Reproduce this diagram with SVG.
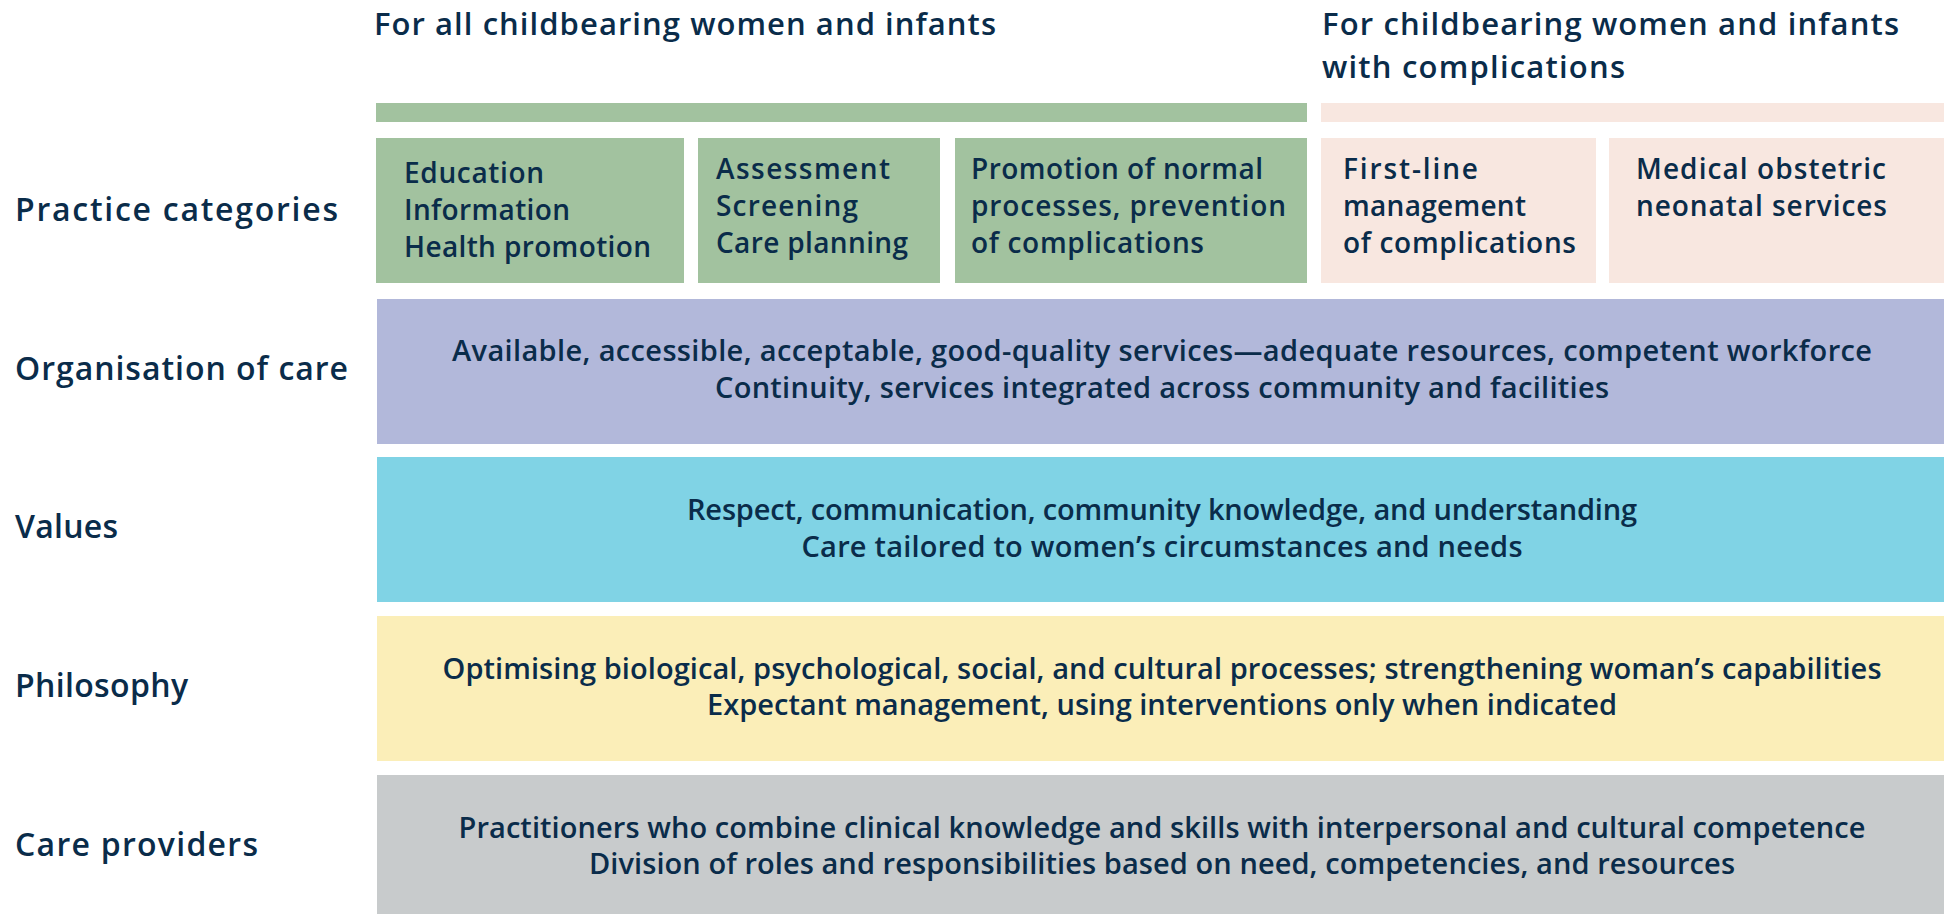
<svg xmlns="http://www.w3.org/2000/svg" width="1944" height="914" viewBox="0 0 1944 914">
<style>
text{font-family:"Open Sans",Roboto,"Liberation Sans",sans-serif;font-weight:600;fill:#0a2c4a}
.lbl{font-size:32px}
.ttl{font-size:31px}
.box{font-size:28px}
.body{font-size:29px;text-anchor:middle}
.g{fill:#a2c29f}.p{fill:#f8e7e0}.l{fill:#b2b8da}.c{fill:#80d3e5}.y{fill:#fbeeb8}.s{fill:#c8cbcc}
</style>
<rect width="1944" height="914" fill="#ffffff"/>
<g id="headers">
<text class="ttl" x="374" y="35" textLength="622">For all childbearing women and infants</text>
<text class="ttl" x="1322" y="35" textLength="577">For childbearing women and infants</text>
<text class="ttl" x="1322" y="78" textLength="303">with complications</text>
<rect class="g" x="376" y="103" width="931" height="19"/>
<rect class="p" x="1321" y="103" width="623" height="19"/>
</g>
<g id="labels">
<text class="lbl" x="15" y="221" textLength="323">Practice categories</text>
<text class="lbl" x="15" y="380" textLength="333">Organisation of care</text>
<text class="lbl" x="15" y="538" textLength="103">Values</text>
<text class="lbl" x="15" y="697" textLength="173">Philosophy</text>
<text class="lbl" x="15" y="856" textLength="243">Care providers</text>
</g>
<g id="box-education">
<rect class="g" x="376" y="138" width="308" height="145"/>
<text class="box" x="404" y="183" textLength="140">Education</text>
<text class="box" x="404" y="220" textLength="166">Information</text>
<text class="box" x="404" y="257" textLength="247">Health promotion</text>
</g>
<g id="box-assessment">
<rect class="g" x="698" y="138" width="242" height="145"/>
<text class="box" x="716" y="179" textLength="174">Assessment</text>
<text class="box" x="716" y="216" textLength="142">Screening</text>
<text class="box" x="716" y="253" textLength="192">Care planning</text>
</g>
<g id="box-promotion">
<rect class="g" x="955" y="138" width="352" height="145"/>
<text class="box" x="971" y="179" textLength="292">Promotion of normal</text>
<text class="box" x="971" y="216" textLength="315">processes, prevention</text>
<text class="box" x="971" y="253" textLength="233">of complications</text>
</g>
<g id="box-firstline">
<rect class="p" x="1321" y="138" width="275" height="145"/>
<text class="box" x="1343" y="179" textLength="135">First-line</text>
<text class="box" x="1343" y="216" textLength="183">management</text>
<text class="box" x="1343" y="253" textLength="233">of complications</text>
</g>
<g id="box-medical">
<rect class="p" x="1609" y="138" width="335" height="145"/>
<text class="box" x="1636" y="179" textLength="250">Medical obstetric</text>
<text class="box" x="1636" y="216" textLength="251">neonatal services</text>
</g>
<g id="row-organisation">
<rect class="l" x="377" y="299" width="1567" height="145"/>
<text class="body" x="1162" y="361" textLength="1420">Available, accessible, acceptable, good-quality services—adequate resources, competent workforce</text>
<text class="body" x="1162" y="398" textLength="894">Continuity, services integrated across community and facilities</text>
</g>
<g id="row-values">
<rect class="c" x="377" y="457" width="1567" height="145"/>
<text class="body" x="1162" y="520" textLength="950">Respect, communication, community knowledge, and understanding</text>
<text class="body" x="1162" y="557" textLength="721">Care tailored to women’s circumstances and needs</text>
</g>
<g id="row-philosophy">
<rect class="y" x="377" y="616" width="1567" height="145"/>
<text class="body" x="1162" y="679" textLength="1439">Optimising biological, psychological, social, and cultural processes; strengthening woman’s capabilities</text>
<text class="body" x="1162" y="715" textLength="910">Expectant management, using interventions only when indicated</text>
</g>
<g id="row-providers">
<rect class="s" x="377" y="775" width="1567" height="139"/>
<text class="body" x="1162" y="838" textLength="1407">Practitioners who combine clinical knowledge and skills with interpersonal and cultural competence</text>
<text class="body" x="1162" y="874" textLength="1146">Division of roles and responsibilities based on need, competencies, and resources</text>
</g>
<g id="connectors"/>
</svg>
